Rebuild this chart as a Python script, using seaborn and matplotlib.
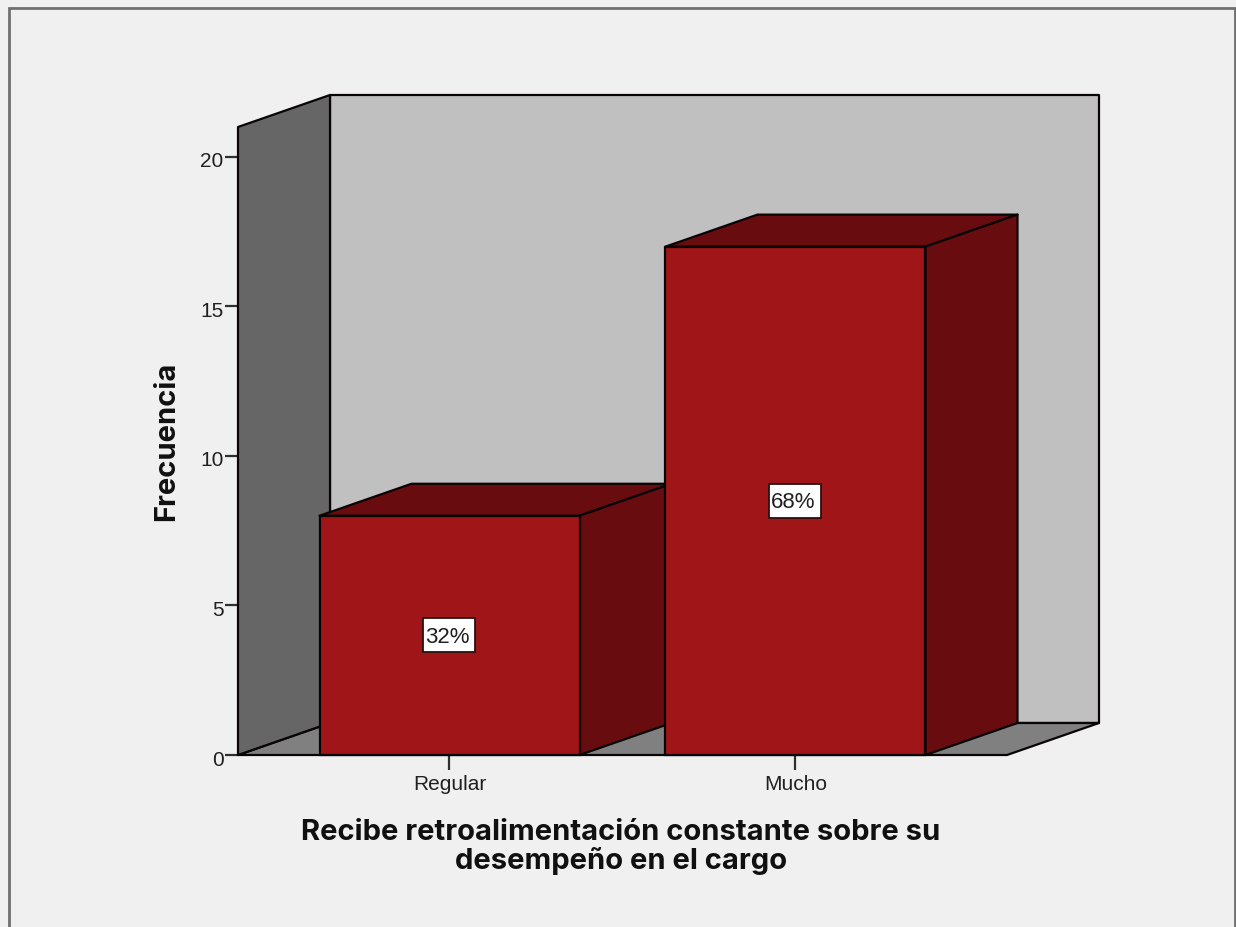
import matplotlib
matplotlib.use("Agg")
import matplotlib.pyplot as plt
from matplotlib.patches import Polygon, Rectangle
from matplotlib.transforms import ScaledTranslation
import pandas as pd
import seaborn as sns

categories = ["Regular", "Mucho"]
frequencies = [8, 17]
percent_labels = ["32%", "68%"]
y_ticks = [0, 5, 10, 15, 20]
y_label = "Frecuencia"
x_label = "Recibe retroalimentación constante sobre su\ndesempeño en el cargo"

FACE = "#a01518"
SHADE = "#680c10"
BACK_WALL = "#c0c0c0"
SIDE_WALL = "#666666"
FLOOR = "#808080"
PAGE = "#f0f0f0"
EDGE = "#0a0505"

WIDTH, HEIGHT = 1236, 928
sns.set_theme(style="white")
plt.rcParams["font.family"] = ["Liberation Sans", "DejaVu Sans"]

fig = plt.figure(figsize=(WIDTH / 100, HEIGHT / 100), dpi=100, facecolor=PAGE)
fig.add_artist(Rectangle((9 / WIDTH, -0.05), (1235 - 9) / WIDTH, 1.05 - 9 / HEIGHT,
                         transform=fig.transFigure, fill=False,
                         edgecolor="#707070", linewidth=2))

# Front plane of the plot box, in pixels from the top-left corner
left, right, bottom, top = 238, 1007, 756, 128
px_x, px_y = 346, 29.9  # pixels per category step and per frequency unit
ax = fig.add_axes([left / WIDTH, 1 - bottom / HEIGHT,
                   (right - left) / WIDTH, (bottom - top) / HEIGHT])
ax.patch.set_visible(False)

data = pd.DataFrame({"categoria": categories, "frecuencia": frequencies})
sns.barplot(data=data, x="categoria", y="frecuencia", color=FACE, saturation=1,
            width=260 / px_x, edgecolor=EDGE, linewidth=1.6, ax=ax, zorder=5)

ax.set_xlim(-(449.5 - left) / px_x, (right - 449.5) / px_x)
ax.set_ylim(0, 21)

# Oblique extrusion used by the walls and the bars
depth_x = 92 / px_x
depth_y = 32 / px_y
x0, x1 = ax.get_xlim()
y0, y1 = ax.get_ylim()


def face(points, color, zorder):
    ax.add_patch(Polygon(points, closed=True, facecolor=color, edgecolor=EDGE,
                         linewidth=1.6, joinstyle="round", zorder=zorder, clip_on=False))


face([(x0 + depth_x, y0 + depth_y), (x1 + depth_x, y0 + depth_y),
      (x1 + depth_x, y1 + depth_y), (x0 + depth_x, y1 + depth_y)], BACK_WALL, 1)
face([(x0, y0), (x1, y0), (x1 + depth_x, y0 + depth_y), (x0 + depth_x, y0 + depth_y)], FLOOR, 2)
face([(x0, y0), (x0 + depth_x, y0 + depth_y), (x0 + depth_x, y1 + depth_y), (x0, y1)], SIDE_WALL, 3)

# Each bar stacks above the previous one so its front hides the neighbour's side
box_w, box_h = 52 / px_x, 34 / px_y
for i, (bar, text) in enumerate(zip(ax.patches[:len(categories)], percent_labels)):
    xa, w, h = bar.get_x(), bar.get_width(), bar.get_height()
    xb = xa + w
    xm = xa + w / 2
    base = 5 + 2 * i
    bar.set_zorder(base + 1)
    bar.set_clip_on(False)
    face([(xa, h), (xb, h), (xb + depth_x, h + depth_y), (xa + depth_x, h + depth_y)], SHADE, base)
    face([(xb, 0), (xb + depth_x, depth_y), (xb + depth_x, h + depth_y), (xb, h)], SHADE, base)
    ax.add_patch(Rectangle((xm - box_w / 2, h / 2 - box_h / 2), box_w, box_h, facecolor="white",
                           edgecolor="#2a1010", linewidth=1.3, zorder=19))
    ax.text(xm - 2 / px_x, h / 2 - 1 / px_y, text, ha="center", va="center",
            fontsize=16, color="#202020", zorder=20)

ax.set_yticks(y_ticks)
ax.set_xticks(range(len(categories)), categories)
ax.tick_params(axis="y", length=9.5, width=1.6, color="#303030", labelsize=15,
               labelcolor="#202020", pad=1, left=True)
ax.tick_params(axis="x", length=10.5, width=1.6, color="#303030", labelsize=15,
               labelcolor="#202020", pad=3, bottom=True)
# The value labels sit slightly below their ticks
drop = ScaledTranslation(0, -2 / 100, fig.dpi_scale_trans)
for tick_text in ax.get_yticklabels():
    tick_text.set_transform(tick_text.get_transform() + drop)
for side in ("top", "right", "left", "bottom"):
    ax.spines[side].set_visible(False)

ax.set_ylabel("")
ax.set_xlabel("")
fig.text(167 / WIDTH, 1 - 441 / HEIGHT, y_label, rotation=90, ha="center", va="center",
         fontsize=21, fontfamily="Inter", fontweight="bold", color="#101010")
fig.text(621 / WIDTH, 1 - 847 / HEIGHT, x_label, ha="center", va="center", linespacing=1.08,
         fontsize=21, fontfamily="Inter", fontweight="bold", color="#101010")

fig.savefig("out.png", dpi=100, facecolor=PAGE)
